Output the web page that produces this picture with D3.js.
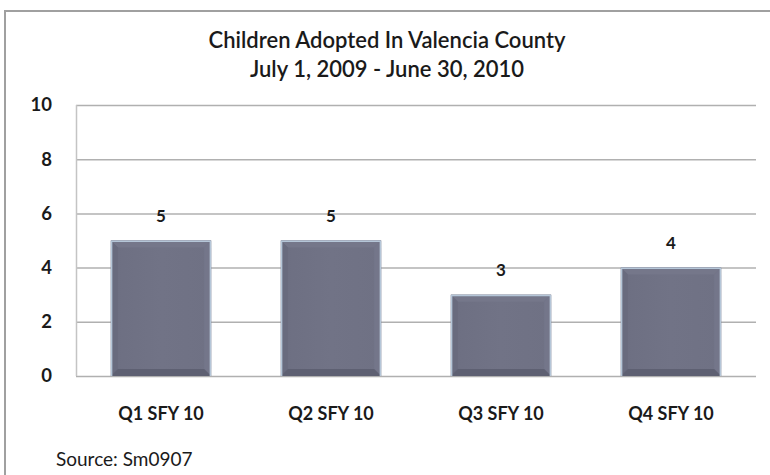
<!DOCTYPE html>
<html>
<head>
<meta charset="utf-8">
<script src="https://cdn.jsdelivr.net/npm/d3@7"></script>
<style>
  body { margin: 0; background: #fff; }
  svg text { font-family: Lato, "Open Sans", sans-serif; fill: #1a1a1a; }
</style>
</head>
<body>
<svg id="chart" width="770" height="475"></svg>
<script>
// data
const quarters = ["Q1 SFY 10", "Q2 SFY 10", "Q3 SFY 10", "Q4 SFY 10"];
const adopted = [5, 5, 3, 4];
const yTicks = [0, 2, 4, 6, 8, 10];
const titleLines = ["Children Adopted In Valencia County", "July 1, 2009 - June 30, 2010"];
const sourceNote = "Source: Sm0907";

const svg = d3.select("#chart");

// chart frame (right/bottom edges run off the picture)
svg.append("path")
  .attr("d", "M5,480 L5,11 L780,11")
  .attr("fill", "none")
  .attr("stroke", "#a0a0a0")
  .attr("stroke-width", 2);

const margin = {left: 76, right: 14, top: 105, bottom: 99};
const x = d3.scaleBand()
  .domain(quarters)
  .range([margin.left, 770 - margin.right])
  .paddingInner(0.41)
  .paddingOuter(0.205);
const y = d3.scaleLinear()
  .domain([0, 10])
  .range([475 - margin.bottom, margin.top]);

// gridlines
svg.append("g")
  .selectAll("line")
  .data(yTicks)
  .enter()
  .append("line")
  .attr("x1", margin.left)
  .attr("x2", 770 - margin.right)
  .attr("y1", d => y(d) + 0.5)
  .attr("y2", d => y(d) + 0.5)
  .attr("stroke", "#b0b0b0")
  .attr("stroke-width", 1.5);

// left axis line
svg.append("line")
  .attr("x1", margin.left + 0.5).attr("x2", margin.left + 0.5)
  .attr("y1", y(10)).attr("y2", y(0))
  .attr("stroke", "#c4c4c4")
  .attr("stroke-width", 1.5);

// y tick labels
const yAxis = svg.append("g")
  .attr("transform", `translate(${margin.left - 24},0)`)
  .call(d3.axisLeft(y).tickValues(yTicks).tickSize(0).tickPadding(0));
yAxis.select(".domain").remove();
yAxis.selectAll("text")
  .style("font-family", "Lato, sans-serif")
  .style("font-size", "18.5px")
  .style("font-weight", "bold")
  .attr("fill", "#1a1a1a");

// bar gradient
const defs = svg.append("defs");
const grad = defs.append("linearGradient")
  .attr("id", "barFill")
  .attr("x1", 0).attr("x2", 1).attr("y1", 0).attr("y2", 0);
grad.append("stop").attr("offset", "0%").attr("stop-color", "#6d6f82");
grad.append("stop").attr("offset", "50%").attr("stop-color", "#717386");
grad.append("stop").attr("offset", "100%").attr("stop-color", "#6f7184");

const bev = 7;
const bars = svg.append("g")
  .selectAll("g")
  .data(adopted)
  .enter()
  .append("g")
  .attr("transform", (d, i) => `translate(${x(quarters[i])},${y(d)})`);

const bw = x.bandwidth();

bars.append("rect")
  .attr("width", bw)
  .attr("height", d => y(0) - y(d))
  .attr("fill", "url(#barFill)");

// bevel: soft edges
bars.append("path")
  .attr("d", `M0,0 L${bw},0 L${bw - bev},${bev} L${bev},${bev} Z`)
  .attr("fill", "#75778a");
bars.append("path")
  .attr("d", d => { const h = y(0) - y(d); return `M0,0 L${bev},${bev} L${bev},${h - bev} L0,${h} Z`; })
  .attr("fill", "#696b7e");
bars.append("path")
  .attr("d", d => { const h = y(0) - y(d); return `M${bw},0 L${bw},${h} L${bw - bev},${h - bev} L${bw - bev},${bev} Z`; })
  .attr("fill", "#74768a");
bars.append("path")
  .attr("d", d => { const h = y(0) - y(d); return `M0,${h} L${bw},${h} L${bw - bev},${h - bev} L${bev},${h - bev} Z`; })
  .attr("fill", "#5e6072");

// light edge around bar
bars.append("path")
  .attr("d", d => { const h = y(0) - y(d); return `M0.75,${h} L0.75,0.75 L${bw - 0.75},0.75 L${bw - 0.75},${h}`; })
  .attr("fill", "none")
  .attr("stroke", "#b5c6d8")
  .attr("stroke-width", 1.5);

// value labels
svg.append("g")
  .selectAll("text")
  .data(adopted)
  .enter()
  .append("text")
  .attr("x", (d, i) => x(quarters[i]) + bw / 2)
  .attr("y", d => y(d) - 19)
  .attr("text-anchor", "middle")
  .style("font-size", "17px")
  .style("font-weight", "bold")
  .text(d => d);

// x labels
const xAxis = svg.append("g")
  .attr("transform", `translate(0,${y(0) + 31})`)
  .call(d3.axisBottom(x).tickSize(0).tickPadding(0));
xAxis.select(".domain").remove();
xAxis.selectAll("text")
  .style("font-family", "Lato, sans-serif")
  .style("font-size", "18px")
  .style("font-weight", "bold")
  .attr("fill", "#1a1a1a");

// title
svg.append("g")
  .selectAll("text")
  .data(titleLines)
  .enter()
  .append("text")
  .attr("x", 387)
  .attr("y", (d, i) => 48 + i * 29)
  .attr("text-anchor", "middle")
  .style("font-size", "22px")
  .style("font-weight", "600")
  .text(d => d);

// source
svg.append("text")
  .attr("x", 56)
  .attr("y", 466)
  .style("font-size", "19px")
  .text(sourceNote);
</script>
</body>
</html>
